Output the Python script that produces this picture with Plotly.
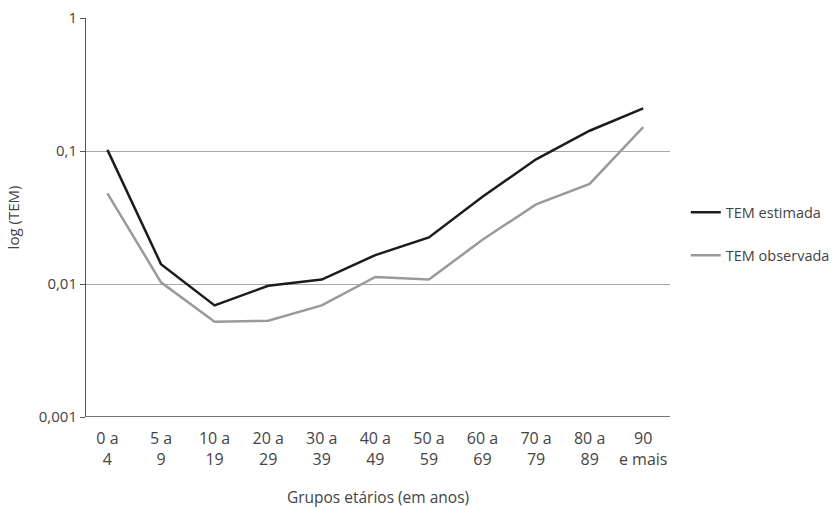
import plotly.graph_objects as go

# Age groups (two-line tick labels)
age_groups = ["0 a<br>4", "5 a<br>9", "10 a<br>19", "20 a<br>29", "30 a<br>39",
              "40 a<br>49", "50 a<br>59", "60 a<br>69", "70 a<br>79", "80 a<br>89",
              "90<br>e mais"]

# Specific mortality rates
tem_estimada = [0.102, 0.0141, 0.0069, 0.0097, 0.0108, 0.0165, 0.0224,
                0.0453, 0.0866, 0.142, 0.209]
tem_observada = [0.0481, 0.0103, 0.0052, 0.0053, 0.0069, 0.0113, 0.0108,
                 0.0215, 0.0397, 0.0565, 0.151]

y_tickvals = [0.001, 0.01, 0.1, 1]
y_ticktext = ["0,001", "0,01", "0,1", "1"]

x_idx = list(range(len(age_groups)))

FONT = "Open Sans, Lato, sans-serif"
TXT = "#444444"

fig = go.Figure()
fig.add_trace(go.Scatter(
    x=x_idx, y=tem_estimada, mode="lines", name="TEM estimada",
    line=dict(color="#1c1c1c", width=2.5), legendgroup="a"))
fig.add_trace(go.Scatter(
    x=x_idx, y=tem_observada, mode="lines", name="TEM observada",
    line=dict(color="#9a9a9a", width=2.5), legendgroup="b"))

fig.update_layout(
    width=840, height=508,
    margin=dict(l=86, r=170, t=18, b=91, autoexpand=False),
    paper_bgcolor="white", plot_bgcolor="white",
    font=dict(family=FONT, size=15.5, color=TXT),
    showlegend=True,
    legend=dict(x=1.027, y=0.459, xanchor="left", yanchor="middle",
                font=dict(size=14.5, color=TXT), tracegroupgap=21,
                bgcolor="rgba(0,0,0,0)"),
    xaxis=dict(
        tickmode="array", tickvals=x_idx, ticktext=age_groups,
        range=[-0.4, 10.5], showgrid=False, zeroline=False,
        showline=False, ticks="outside", ticklen=7, automargin=False,
        tickcolor="rgba(0,0,0,0)", tickfont=dict(size=16, color=TXT),
        title=dict(text="Grupos etários (em anos)", font=dict(size=15.5, color=TXT),
                   standoff=25),
    ),
    yaxis=dict(
        type="log", range=[-3, 0], tickmode="array",
        tickvals=y_tickvals, ticktext=y_ticktext,
        showgrid=True, gridcolor="#a8a8a8", gridwidth=1,
        showline=True, linecolor="#555555", linewidth=1,
        ticks="outside", ticklen=5, tickcolor="#555555", automargin=False,
        zeroline=False, tickfont=dict(size=15, color=TXT),
        title=dict(text="log (TEM)", font=dict(size=15, color=TXT), standoff=15),
    ),
)

# Baseline at the bottom of the log axis
fig.add_shape(type="line", xref="paper", yref="y", x0=0, x1=1,
              y0=0.001, y1=0.001, line=dict(color="#444444", width=1.3))

fig.write_html("out.html")
